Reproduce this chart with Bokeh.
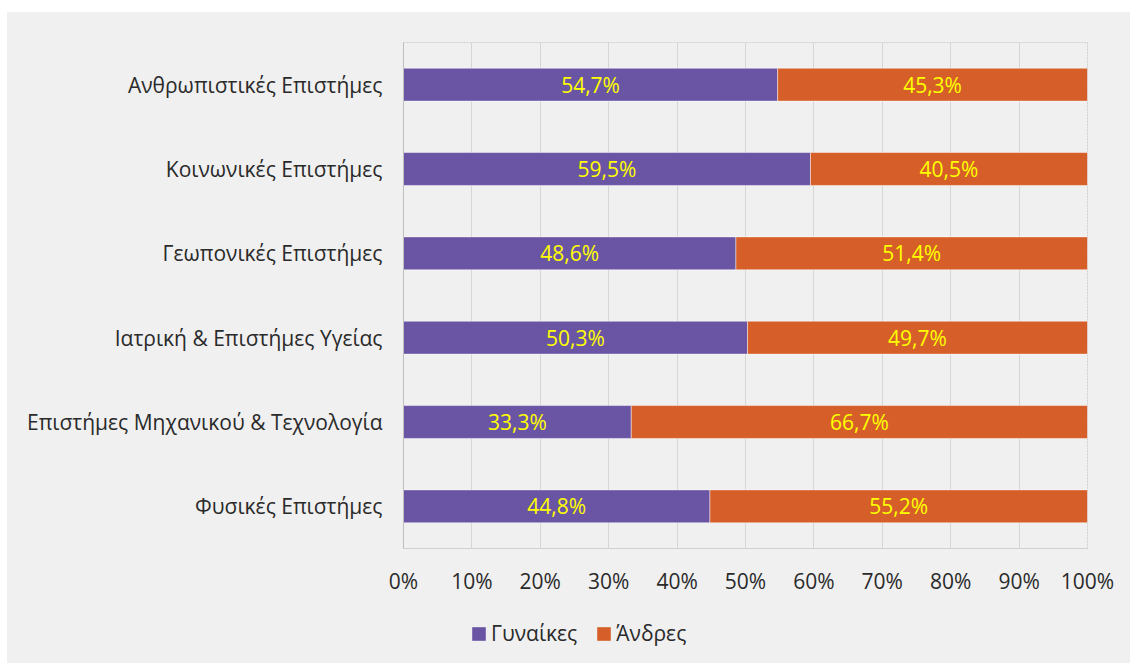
from bokeh.plotting import figure
from bokeh.layouts import column, row, Spacer
from bokeh.models import ColumnDataSource, FactorRange, Range1d, LabelSet, Legend, LegendItem, NumeralTickFormatter, FixedTicker
from bokeh.core.properties import value
from bokeh.embed import file_html
from bokeh.resources import INLINE

categories = ["Ανθρωπιστικές Επιστήμες", "Κοινωνικές Επιστήμες", "Γεωπονικές Επιστήμες",
              "Ιατρική & Επιστήμες Υγείας", "Επιστήμες Μηχανικού & Τεχνολογία", "Φυσικές Επιστήμες"]
women = [54.7, 59.5, 48.6, 50.3, 33.3, 44.8]
men = [45.3, 40.5, 51.4, 49.7, 66.7, 55.2]
series_names = ["Γυναίκες", "Άνδρες"]
x_ticks = [0, 10, 20, 30, 40, 50, 60, 70, 80, 90, 100]

FONT = "Open Sans"
FS = "21px"
PURPLE = "#6a55a5"
ORANGE = "#d65e29"
BG = "#f0f0f0"
TXT = "#2a2a2a"

def fmt(v):
    return ("%.1f%%" % v).replace(".", ",")

src = ColumnDataSource(dict(
    cat=categories,
    w=[v / 100 for v in women],
    m=[v / 100 for v in men],
    w_mid=[v / 200 for v in women],
    m_mid=[(a + b / 2) / 100 for a, b in zip(women, men)],
    w_lab=[fmt(v) for v in women],
    m_lab=[fmt(v) for v in men],
))

W = 1123
H1 = 600
H2 = 51

p = figure(width=W, height=H1, y_range=FactorRange(*reversed(categories)),
           x_range=Range1d(0, 1), output_backend="svg", toolbar_location=None,
           min_border_left=396, min_border_right=43, min_border_top=30, min_border_bottom=64)
p.background_fill_color = BG
p.border_fill_color = BG
p.outline_line_color = "#d0d0d0"
p.outline_line_dash = "2 1"
p.outline_line_width = 1

rs = p.hbar_stack(["w", "m"], y="cat", height=0.39, color=[PURPLE, ORANGE], source=src,
                  line_color="#ffffff", line_alpha=0.45, line_width=1)

for xf, lf in (("w_mid", "w_lab"), ("m_mid", "m_lab")):
    p.add_layout(LabelSet(x=xf, y="cat", text=lf, source=src, text_align="center",
                          text_baseline="middle", text_color="#ffff00", text_font=value(FONT),
                          text_font_size=FS))

p.xaxis.ticker = FixedTicker(ticks=[t / 100 for t in x_ticks])
p.xaxis.formatter = NumeralTickFormatter(format="0%")
p.xaxis.major_label_text_font = FONT
p.xaxis.major_label_text_font_size = FS
p.xaxis.major_label_text_color = TXT
p.xaxis.major_label_standoff = 12
p.xaxis.major_tick_line_color = None
p.xaxis.minor_tick_line_color = None
p.xaxis.axis_line_color = "#d0d0d0"

p.yaxis.major_label_text_font = FONT
p.yaxis.major_label_text_font_size = FS
p.yaxis.major_label_text_color = TXT
p.yaxis.major_label_standoff = 15
p.yaxis.major_tick_line_color = None
p.yaxis.minor_tick_line_color = None
p.yaxis.axis_line_color = "#bfbfbf"

p.ygrid.grid_line_color = None
p.xgrid.grid_line_color = "#d6d6d6"
p.xgrid.grid_line_width = 1

# legend strip below the chart (swatch renderers hold no drawable coordinates)
nan = float("nan")
p2 = figure(width=W, height=H2, x_range=Range1d(0, 1), y_range=Range1d(0, 1),
            output_backend="svg", toolbar_location=None, x_axis_type=None, y_axis_type=None,
            min_border_left=396, min_border_right=43, min_border_top=0, min_border_bottom=0)
p2.background_fill_alpha = 0
p2.border_fill_alpha = 0
p2.outline_line_color = None
p2.grid.visible = False
d1 = p2.quad(left=[nan], right=[nan], top=[nan], bottom=[nan], fill_color=PURPLE, line_color=None)
d2 = p2.quad(left=[nan], right=[nan], top=[nan], bottom=[nan], fill_color=ORANGE, line_color=None)

legend = Legend(items=[LegendItem(label=series_names[0], renderers=[d1]),
                       LegendItem(label=series_names[1], renderers=[d2])],
                orientation="horizontal", location=(67, 16))
legend.background_fill_alpha = 0
legend.border_line_color = None
legend.label_text_font = FONT
legend.label_text_font_size = FS
legend.label_text_color = TXT
legend.glyph_width = 17
legend.glyph_height = 17
legend.label_standoff = 4
legend.spacing = 18
legend.margin = 0
legend.padding = 0
p2.add_layout(legend)

charts = column(p, p2, spacing=0, styles={"background-color": BG})
layout = column(Spacer(height=12),
                row(Spacer(width=7), charts, spacing=0),
                spacing=0)

open("out.html", "w").write(file_html(layout, INLINE))
